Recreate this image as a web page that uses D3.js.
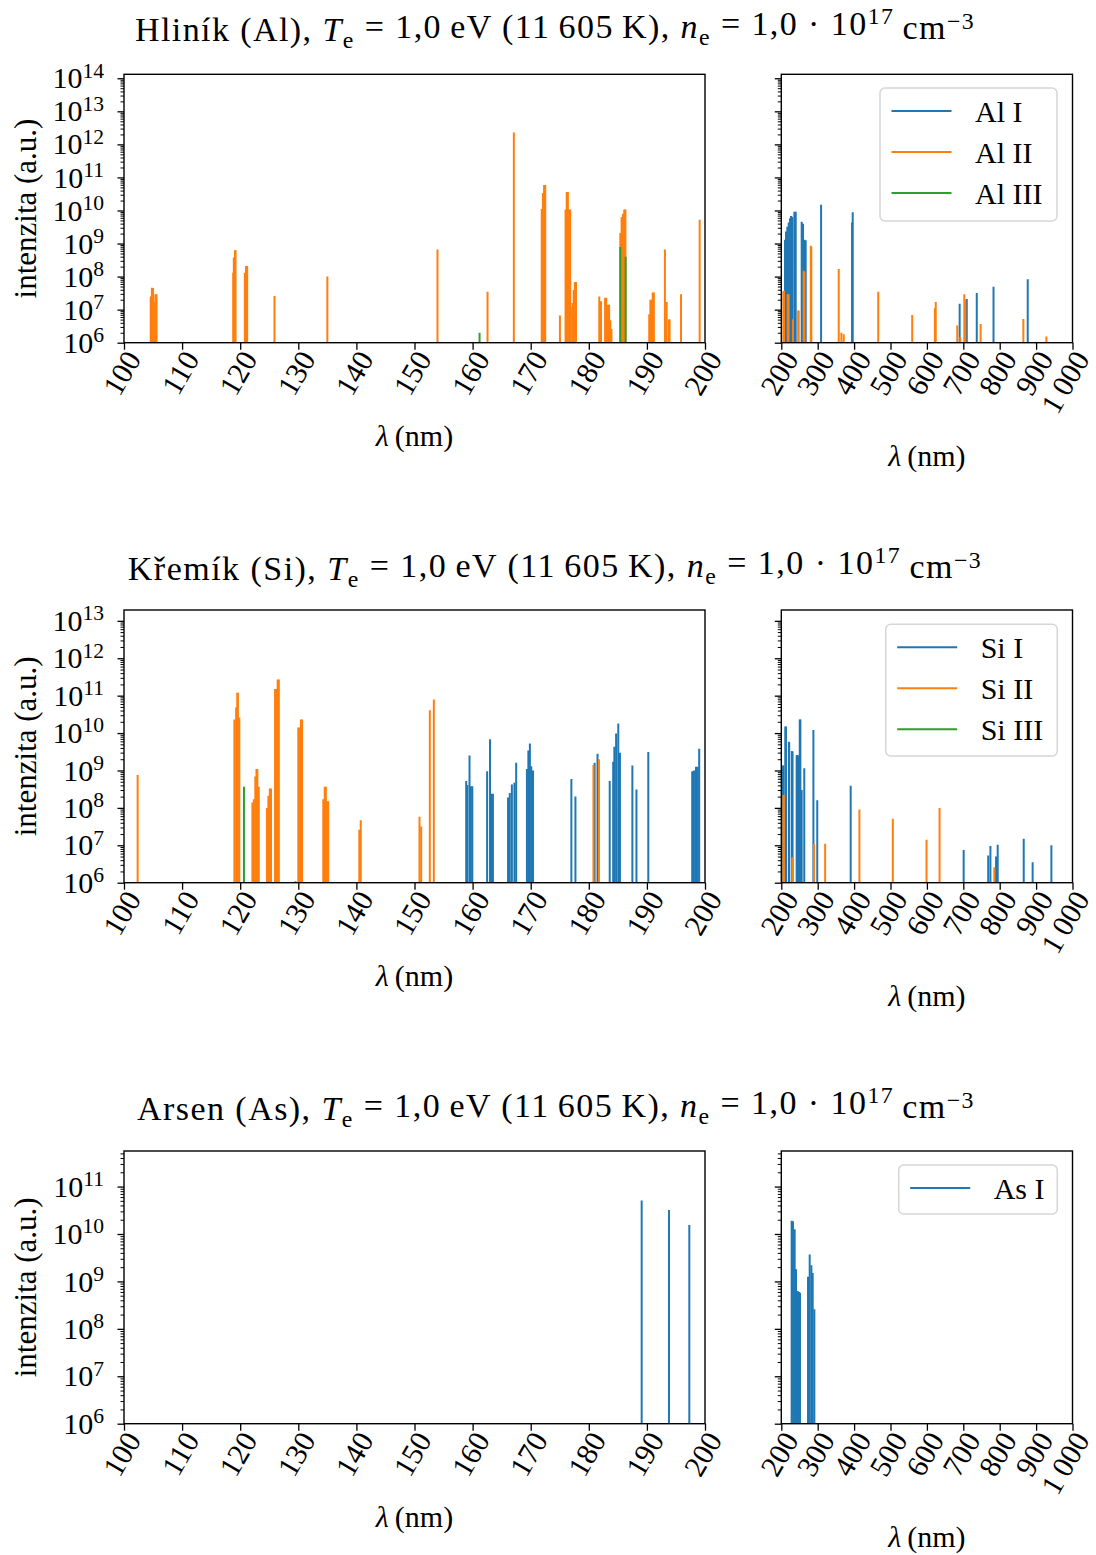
<!DOCTYPE html>
<html><head><meta charset="utf-8">
<script src="https://cdn.jsdelivr.net/npm/d3@7"></script>
<style>
body{margin:0;background:#fff}
text{font-family:"Liberation Serif","Times New Roman",serif;fill:#000}
</style>
</head><body>
<svg id="c" width="1096" height="1555"></svg>
<script>
// ---------- data: [wavelength nm, intensity a.u.] ----------
const alI = [[210.2,1.3e9],[213.0,2.3e9],[216.6,3.2e9],[220.3,4.3e9],[224.0,5.8e9],[226.7,6.8e9],[230.4,6.5e9],[236.0,9.1e9],[239.6,9.1e9],[256.0,4.6e9],[259.7,4.0e9],[263.3,1.3e9],[267.0,1.25e9],[309.3,1.5e10],[394.4,4.3e9],[396.2,8.9e9],[690.0,1.5e7],[709.5,2.1e7],[737.0,3.2e7],[783.0,4.9e7],[877.0,8.3e7]];
const alII = [[104.6,2.5e7],[104.8,4.6e7],[105.0,4.5e7],[105.2,1.7e7],[105.4,2.9e7],[105.6,2.9e7],
 [118.8,1.3e8],[118.9,3.8e8],[119.1,6.3e8],[119.2,6.3e8],[120.8,1.3e8],[121.0,2.1e8],[121.2,2.1e8],
 [125.9,2.6e7],[135.0,1.0e8],[153.96,6.6e8],[162.57,3.5e7],[167.1,2.3e12],
 [171.9,1.1e10],[172.1,3.4e10],[172.3,5.9e10],[172.5,5.9e10],[175.03,6.6e6],
 [176.0,1.07e10],[176.2,3.6e10],[176.4,3.6e10],[176.6,1.07e10],[176.8,1.07e10],[176.9,1.2e7],
 [177.2,1.6e7],[177.4,3.9e7],[177.6,6.9e7],[177.8,6.9e7],[181.8,2.5e7],[182.1,1.8e7],
 [182.8,2.3e7],[183.0,2.3e7],[183.3,1.4e7],[183.5,1.4e7],[183.7,4.8e6],[183.9,2.6e6],
 [185.42,2.1e9],[185.65,6.4e9],[185.88,8.0e9],[186.1,1.07e10],[186.3,1.07e10],
 [190.4,7.3e6],[190.6,2.0e7],[190.8,2.0e7],[191.0,3.3e7],[191.2,3.3e7],
 [193.1,6.6e8],[193.4,1.7e7],[193.8,5.0e6],[193.9,5.0e6],[195.87,2.9e7],[199.08,5.2e9],
 [205.5,3.6e7],[207.5,3.7e7],[217.5,2.9e7],[220.0,2.9e7],[231.9,5.1e6],[246.5,9.5e6],[247.7,9.3e6],
 [261.5,1.5e8],[263.5,1.4e8],[281.0,8.5e8],[282.5,8.0e8],[357.8,1.7e8],[365.1,2.0e6],[371.5,1.8e6],
 [466.3,3.5e7],[559.6,6.9e6],[622.0,1.1e7],[624.3,1.7e7],[683.4,3.3e6],[691.7,1.5e6],[702.7,2.9e7],
 [705.5,2.0e7],[747.6,3.7e6],[865.0,5.2e6],[928.3,1.55e6]];
const alIII = [[161.2,2.0e6],[185.42,7.9e8],[186.34,4.0e8]];

const siI = [[158.9,5.2e8],[159.1,4.1e8],[159.47,2.5e9],[159.7,3.8e8],[159.95,3.8e8],[162.5,9.5e8],[163.0,6.8e9],
 [163.25,2.4e8],[163.5,2.4e8],[166.1,1.9e8],[166.4,2.5e8],[166.76,4.2e8],[167.2,4.7e8],[167.5,1.6e9],
 [169.35,1.1e9],[169.6,3.4e9],[169.86,5.3e9],[170.1,1.3e9],[170.4,1.0e9],[177.0,5.9e8],[177.7,2.0e8],
 [181.0,1.6e9],[181.5,2.8e9],[183.6,5.2e8],[184.2,1.7e9],[184.4,4.3e9],[184.7,9.8e9],[185.07,1.8e10],
 [185.2,1.5e8],[185.36,3.0e9],[187.5,1.35e9],[188.2,3.1e8],[190.24,3.1e9],[197.8,9.5e8],[198.1,1.0e9],
 [198.45,1.26e9],[198.74,1.26e9],[199.0,3.8e9],
 [203.6,1.35e9],[205.5,1.35e9],[211.0,1.5e10],[212.8,1.5e10],[220.8,5.9e9],[221.7,5.6e9],[229.0,3.3e9],
 [230.9,3.2e9],[242.2,2.5e9],[243.5,2.6e9],[245.9,2.5e9],[250.7,2.3e10],[252.4,2.3e10],[256.0,3.0e8],
 [263.1,1.15e9],[288.2,1.2e10],[298.8,1.6e8],[390.6,3.9e8],[701.0,7.5e6],[768.5,5.3e6],[774.5,9.6e6],
 [790.0,5.0e6],[794.5,1.04e7],[866.0,1.5e7],[890.5,3.5e6],[942.0,1.0e7]];
const siII = [[102.35,7.6e8],[119.0,2.3e10],[119.3,4.8e10],[119.5,1.2e11],[119.6,1.2e11],[119.85,2.6e10],
 [122.1,1.4e8],[122.35,1.7e8],[122.6,6.9e8],[122.8,1.1e9],[122.95,1.1e9],[123.2,3.7e8],
 [124.6,1.0e8],[124.85,2.1e8],[125.1,3.3e8],[125.3,3.3e8],[126.0,1.5e11],[126.25,1.5e11],[126.45,2.7e11],[126.65,2.7e11],
 [130.0,1.4e10],[130.2,1.4e10],[130.45,2.3e10],[130.65,2.3e10],[134.3,1.7e8],[134.55,3.7e8],[134.75,3.7e8],
 [134.95,1.5e8],[135.15,1.5e8],[140.5,2.6e7],[140.75,4.7e7],[150.86,5.8e7],[151.15,3.2e7],[152.64,4.1e10],
 [153.33,7.9e10],[180.8,1.4e9],[181.75,2.0e9],
 [205.8,2.2e8],[207.0,2.2e8],[230.3,4.7e6],[231.5,4.7e6],[289.9,1.1e7],[320.5,1.1e7],[414.6,9.1e7],
 [506.4,5.1e7],[599.0,1.4e7],[634.8,1.0e8],[785.2,2.6e6]];
const siIII = [[120.65,3.7e8],[129.5,1.1e6]];

const asI = [[189.1,5.1e10],[193.8,3.2e10],[197.3,1.55e10],
 [228.4,1.9e10],[232.1,1.85e10],[236.7,1.26e10],[240.4,1.8e9],[244.9,6.3e8],[248.6,6.0e8],[251.4,5.8e8],
 [273.4,1.26e9],[278.0,3.7e9],[282.6,2.2e9],[286.2,1.5e9],[290.8,2.6e8]];

const leftTicks = [100,110,120,130,140,150,160,170,180,190,200];
const rightTicks = [200,300,400,500,600,700,800,900,1000];
const rightTickLabels = ["200","300","400","500","600","700","800","900","1\u2009000"];
const colors = ["#1f77b4","#ff7f0e","#2ca02c"];

const rows = [
 {el:"Hliník (Al)", series:[["Al I",alI],["Al II",alII],["Al III",alIII]],
  top:74.3, bottom:342.7, maxExp:14.12, titleY:41, titleW:840, titleX:555,
  leg:{x:880, y:88, w:177, h:133}},
 {el:"Křemík (Si)", series:[["Si I",siI],["Si II",siII],["Si III",siIII]],
  top:610, bottom:882.7, maxExp:13.29, titleY:580, titleW:854, titleX:555,
  leg:{x:885.7, y:624.3, w:171.6, h:131.7}},
 {el:"Arsen (As)", series:[["As I",asI]],
  top:1151, bottom:1423.7, maxExp:11.75, titleY:1120, titleW:838, titleX:556,
  leg:{x:898.7, y:1165, w:158.6, h:49}}
];

const svg = d3.select("#c");
const L = {x0:124, x1:705}, R = {x0:781.3, x1:1072.5};
const TICKFS = 30, LABFS = 30, LEGFS = 30, TITLEFS = 34;

function supLabel(sel, base, exp){
  sel.text(null);
  sel.append("tspan").text(base);
  sel.append("tspan").attr("dy","-0.5em").attr("font-size","0.72em").text(exp);
}

rows.forEach((row, ri) => {
  const y = d3.scaleLog().domain([1e6, Math.pow(10,row.maxExp)]).range([row.bottom,row.top]);
  const majors = d3.range(6, Math.floor(row.maxExp)+1).map(e=>Math.pow(10,e));
  const minors = [];
  for(let e=6;e<=Math.floor(row.maxExp);e++) for(let k=2;k<=9;k++){const v=k*Math.pow(10,e); if(v<=y.domain()[1]) minors.push(v);}

  // title
  const t = svg.append("text").attr("x",row.titleX).attr("y",row.titleY).attr("text-anchor","middle").attr("font-size",TITLEFS);
  t.append("tspan").text(row.el+", ");
  t.append("tspan").attr("font-style","italic").text("T");
  t.append("tspan").attr("font-size","0.7em").attr("dy","0.3em").text("e");
  t.append("tspan").attr("dy","-0.3em").text(" = 1,0\u2009eV (11\u2009605\u2009K), ");
  t.append("tspan").attr("font-style","italic").text("n");
  t.append("tspan").attr("font-size","0.7em").attr("dy","0.3em").text("e");
  t.append("tspan").attr("dy","-0.3em").text(" = 1,0 \u00b7 10");
  t.append("tspan").attr("font-size","0.7em").attr("dy","-0.45em").text("17");
  t.append("tspan").attr("dy","0.45em").text("\u2009cm");
  t.append("tspan").attr("font-size","0.7em").attr("dy","-0.45em").text("\u22123");
  const tl = t.node().getComputedTextLength();
  const nch = t.text().length;
  t.attr("letter-spacing", Math.max(0,(row.titleW - tl)/nch).toFixed(2));

  // y label
  svg.append("text").attr("transform",`translate(36,${(row.top+row.bottom)/2}) rotate(-90)`)
    .attr("text-anchor","middle").attr("font-size",31).text("intenzita (a.u.)");

  [[L, d3.scaleLinear().domain([100,200]).range([L.x0,L.x1]), leftTicks, leftTicks.map(String), true],
   [R, d3.scaleLinear().domain([200,1000]).range([R.x0,R.x1]), rightTicks, rightTickLabels, false]]
  .forEach(([P, x, ticks, labels, isLeft], pi) => {
    const g = svg.append("g");
    const clipId = `clip${ri}_${pi}`;
    g.append("clipPath").attr("id",clipId).append("rect")
      .attr("x",P.x0).attr("y",row.top).attr("width",P.x1-P.x0).attr("height",row.bottom-row.top);
    const lines = g.append("g").attr("clip-path",`url(#${clipId})`);
    row.series.forEach(([name,data],si)=>{
      const d = data.filter(p=>p[0]>=x.domain()[0] && p[0]<=x.domain()[1]);
      lines.selectAll(null).data(d).enter().append("line")
        .attr("x1",p=>x(p[0])).attr("x2",p=>x(p[0]))
        .attr("y1",y(1e6)).attr("y2",p=>y(p[1]))
        .attr("stroke",colors[si]).attr("stroke-width",2);
    });
    // frame
    g.append("rect").attr("x",P.x0).attr("y",row.top).attr("width",P.x1-P.x0).attr("height",row.bottom-row.top)
      .attr("fill","none").attr("stroke","#000").attr("stroke-width",1.4);
    // x axis
    const xa = g.append("g").attr("transform",`translate(0,${row.bottom})`)
      .call(d3.axisBottom(x).tickValues(ticks).tickSize(7).tickFormat((d,i)=>labels[i]));
    xa.select(".domain").remove();
    xa.selectAll(".tick line").attr("stroke-width",1.3);
    xa.selectAll(".tick text").attr("font-size",TICKFS).attr("font-family","Liberation Serif")
      .attr("text-anchor","end").attr("dy","0.33em").attr("y",0)
      .attr("transform","translate(9,11) rotate(-60)");
    // x label
    const xl = g.append("text").attr("x",(P.x0+P.x1)/2).attr("y",row.bottom + (isLeft?103:123))
      .attr("text-anchor","middle").attr("font-size",LABFS);
    xl.append("tspan").attr("font-style","italic").text("λ");
    xl.append("tspan").text("\u2009(nm)");
    // y axis
    const yaMin = g.append("g").attr("transform",`translate(${P.x0},0)`)
      .call(d3.axisLeft(y).tickValues(minors).tickSize(3.5).tickFormat(""));
    yaMin.select(".domain").remove();
    yaMin.selectAll(".tick line").attr("stroke-width",1);
    const ya = g.append("g").attr("transform",`translate(${P.x0},0)`)
      .call(d3.axisLeft(y).tickValues(majors).tickSize(6.5).tickFormat(isLeft? (d=>String(Math.round(Math.log10(d)))) : ""));
    ya.select(".domain").remove();
    ya.selectAll(".tick line").attr("stroke-width",1.3);
    if(isLeft){
      ya.selectAll(".tick text").attr("font-size",TICKFS).attr("font-family","Liberation Serif").attr("x",-20).attr("dy","0.32em")
        .each(function(d){ supLabel(d3.select(this), "10", String(Math.round(Math.log10(d)))); });
    }
    if(!isLeft){
      // legend
      const lg = row.leg;
      g.append("rect").attr("x",lg.x).attr("y",lg.y).attr("width",lg.w).attr("height",lg.h)
        .attr("rx",5).attr("fill","#fff").attr("fill-opacity",0.8).attr("stroke","#d6d6d6").attr("stroke-width",1.5);
      row.series.forEach(([name],si)=>{
        const ly = lg.y + 23 + si*41;
        g.append("line").attr("x1",lg.x+11.5).attr("x2",lg.x+71.5).attr("y1",ly).attr("y2",ly)
          .attr("stroke",colors[si]).attr("stroke-width",2);
        g.append("text").attr("x",lg.x+95).attr("y",ly).attr("dy","0.35em").attr("font-size",LEGFS).text(name);
      });
    }
  });
});
</script>
</body></html>
